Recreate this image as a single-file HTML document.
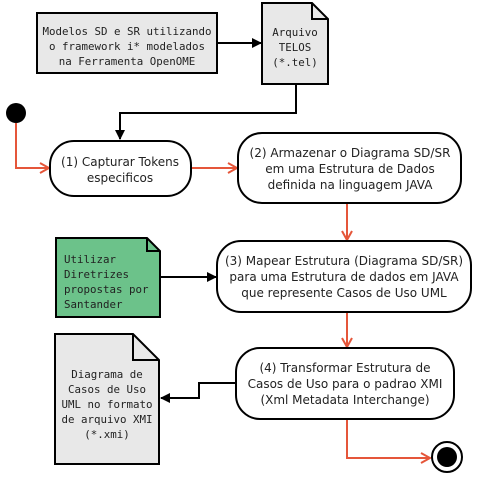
<!DOCTYPE html>
<html><head><style>
html,body{margin:0;padding:0;background:#fff}
</style></head><body>
<svg width="490" height="485" viewBox="0 0 490 485" xmlns="http://www.w3.org/2000/svg">
<defs>
<marker id="ab" markerWidth="10" markerHeight="10" refX="9" refY="5" orient="auto" markerUnits="userSpaceOnUse"><path d="M0,0 L10,5 L0,10 z" fill="#000"/></marker>
<marker id="ar" markerWidth="12" markerHeight="12" refX="10" refY="6" orient="auto" markerUnits="userSpaceOnUse"><path d="M1,1 L10,6 L1,11" fill="none" stroke="#e5563a" stroke-width="2"/></marker>
</defs>
<rect width="490" height="485" fill="#fff"/>
<g font-family="'DejaVu Sans Mono','Liberation Mono',monospace" font-size="10.8" fill="#222">
<rect x="37" y="13" width="180" height="60" fill="#e8e8e8" stroke="#000" stroke-width="2"/>
<text x="127" y="35" text-anchor="middle">Modelos SD e SR utilizando</text>
<text x="127" y="50" text-anchor="middle">o framework i* modelados</text>
<text x="127" y="65" text-anchor="middle">na Ferramenta OpenOME</text>
<path d="M262,3 L312,3 L328,19 L328,84 L262,84 z" fill="#e8e8e8" stroke="#000" stroke-width="2"/>
<path d="M312,3 L312,19 L328,19" fill="none" stroke="#000" stroke-width="2"/>
<text x="295" y="36" text-anchor="middle">Arquivo</text>
<text x="295" y="51" text-anchor="middle">TELOS</text>
<text x="295" y="66" text-anchor="middle">(*.tel)</text>
<path d="M56,238 L147,238 L160,251 L160,317 L56,317 z" fill="#6cc28a" stroke="#000" stroke-width="2"/>
<path d="M147,238 L147,251 L160,251" fill="none" stroke="#000" stroke-width="2"/>
<text x="64" y="263">Utilizar</text>
<text x="64" y="278">Diretrizes</text>
<text x="64" y="293">propostas por</text>
<text x="64" y="308">Santander</text>
<path d="M55,334 L133,334 L159,360 L159,464 L55,464 z" fill="#e8e8e8" stroke="#000" stroke-width="2"/>
<path d="M133,334 L133,360 L159,360" fill="none" stroke="#000" stroke-width="2"/>
<text x="107" y="378" text-anchor="middle">Diagrama de</text>
<text x="107" y="393" text-anchor="middle">Casos de Uso</text>
<text x="107" y="408" text-anchor="middle">UML no formato</text>
<text x="107" y="423" text-anchor="middle">de arquivo XMI</text>
<text x="107" y="438" text-anchor="middle">(*.xmi)</text>
</g>
<line x1="217" y1="43" x2="261" y2="43" stroke="#000" stroke-width="2" marker-end="url(#ab)"/>
<path d="M296,84 L296,113 L120,113 L120,139" fill="none" stroke="#000" stroke-width="2" marker-end="url(#ab)"/>
<circle cx="16" cy="113" r="10" fill="#000"/>
<path d="M16,123 L16,168 L49,168" fill="none" stroke="#e5563a" stroke-width="2" marker-end="url(#ar)"/>
<line x1="191" y1="168" x2="237" y2="168" stroke="#e5563a" stroke-width="2" marker-end="url(#ar)"/>
<line x1="347" y1="203" x2="347" y2="240" stroke="#e5563a" stroke-width="2" marker-end="url(#ar)"/>
<line x1="160" y1="277" x2="216" y2="277" stroke="#000" stroke-width="2" marker-end="url(#ab)"/>
<line x1="347" y1="312" x2="347" y2="347" stroke="#e5563a" stroke-width="2" marker-end="url(#ar)"/>
<path d="M236,383 L199,383 L199,398 L161,398" fill="none" stroke="#000" stroke-width="2" marker-end="url(#ab)"/>
<path d="M347,419 L347,458 L430,458" fill="none" stroke="#e5563a" stroke-width="2" marker-end="url(#ar)"/>
<circle cx="447" cy="457" r="15" fill="#fff" stroke="#000" stroke-width="2"/>
<circle cx="447" cy="457" r="10" fill="#000"/>
<g font-family="'DejaVu Sans','Liberation Sans',sans-serif" font-size="12" fill="#222" text-anchor="middle">
<rect x="50" y="141" width="141" height="55" rx="24" fill="#fff" stroke="#000" stroke-width="2"/>
<text x="120" y="166">(1) Capturar Tokens</text>
<text x="120" y="182">especificos</text>
<rect x="238" y="133" width="223" height="70" rx="24" fill="#fff" stroke="#000" stroke-width="2"/>
<text x="350" y="157">(2) Armazenar o Diagrama SD/SR</text>
<text x="350" y="173">em uma Estrutura de Dados</text>
<text x="350" y="189">definida na linguagem JAVA</text>
<rect x="217" y="241" width="254" height="71" rx="24" fill="#fff" stroke="#000" stroke-width="2"/>
<text x="344" y="265">(3) Mapear Estrutura (Diagrama SD/SR)</text>
<text x="344" y="281">para uma Estrutura de dados em JAVA</text>
<text x="344" y="297">que represente Casos de Uso UML</text>
<rect x="236" y="348" width="218" height="71" rx="24" fill="#fff" stroke="#000" stroke-width="2"/>
<text x="345" y="372">(4) Transformar Estrutura de</text>
<text x="345" y="388">Casos de Uso para o padrao XMI</text>
<text x="345" y="404">(Xml Metadata Interchange)</text>
</g>
</svg>
</body></html>
